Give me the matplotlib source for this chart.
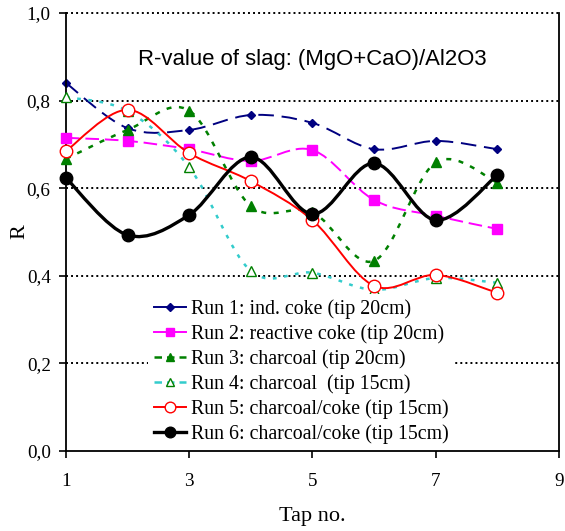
import numpy as np
import matplotlib
matplotlib.use("Agg")
import matplotlib.pyplot as plt
from matplotlib.path import Path
from matplotlib.patches import PathPatch
from matplotlib.lines import Line2D
from matplotlib.ticker import FuncFormatter

# tap numbers and R values per run
taps = [1, 2, 3, 4, 5, 6, 7, 8]
run1 = [0.840, 0.737, 0.733, 0.767, 0.749, 0.689, 0.708, 0.689]
run2 = [0.715, 0.708, 0.689, 0.662, 0.687, 0.573, 0.537, 0.507]
run3 = [0.667, 0.733, 0.777, 0.559, 0.545, 0.434, 0.659, 0.613]
run4 = [0.808, 0.776, 0.648, 0.411, 0.407, 0.368, 0.395, 0.384]
run5 = [0.685, 0.779, 0.680, 0.616, 0.527, 0.377, 0.402, 0.361]
run6 = [0.623, 0.493, 0.539, 0.671, 0.541, 0.657, 0.527, 0.630]

labels = [
    "Run 1: ind. coke (tip 20cm)",
    "Run 2: reactive coke (tip 20cm)",
    "Run 3: charcoal (tip 20cm)",
    "Run 4: charcoal  (tip 15cm)",
    "Run 5: charcoal/coke (tip 15cm)",
    "Run 6: charcoal/coke (tip 15cm)",
]

SERIF = ["Liberation Serif", "DejaVu Serif"]
SANS = ["Liberation Sans", "DejaVu Sans"]


def smooth_path(x, y):
    # cubic bezier through the points (Catmull-Rom style control points)
    p = np.column_stack([x, y]).astype(float)
    n = len(p)
    verts = [p[0]]
    codes = [Path.MOVETO]
    for i in range(n - 1):
        prev = p[i - 1] if i > 0 else p[i]
        nxt = p[i + 2] if i + 2 < n else p[i + 1]
        c1 = p[i] + (p[i + 1] - prev) / 6.0
        c2 = p[i + 1] - (nxt - p[i]) / 6.0
        verts += [c1, c2, p[i + 1]]
        codes += [Path.CURVE4] * 3
    return Path(verts, codes)


# style per run: line colour, dash, width, marker, marker size, face, edge
styles = [
    dict(color="#000080", ls=(0, (8, 4)), lw=1.4, marker="D", ms=4.5, mfc="#000080", mec="#000080", lls="-"),
    dict(color="#ff00ff", ls=(0, (7, 3)), lw=1.4, marker="s", ms=6.5, mfc="#ff00ff", mec="#ff00ff", lls="-"),
    dict(color="#008000", ls=(0, (2, 3)), lw=1.8, marker="^", ms=6.5, mfc="#008000", mec="#008000", lls=(0, (3, 2))),
    dict(color="#33cccc", ls=(0, (1.5, 3)), lw=1.8, marker="^", ms=6.5, mfc="white", mec="#008000", lls=(0, (3, 2))),
    dict(color="#ff0000", ls="-", lw=1.4, marker="o", ms=9, mfc="white", mec="#ff0000", lls="-"),
    dict(color="#000000", ls="-", lw=2.4, marker="o", ms=9, mfc="#000000", mec="#000000", lls="-"),
]

fig = plt.figure(figsize=(5.65, 5.31), dpi=100)
ax = fig.add_axes([0.1168, 0.1507, 0.8725, 0.8248])
ax.set_xlim(1, 9)
ax.set_ylim(0, 1.0)

# dotted horizontal grid
for gy in [0.2, 0.4, 0.6, 0.8, 1.0]:
    ax.axhline(gy, color="black", lw=1.4, ls=(0, (1, 1.6)), clip_on=False, zorder=1)

series = [run1, run2, run3, run4, run5, run6]
handles = []
for k, (vals, st) in enumerate(zip(series, styles)):
    patch = PathPatch(smooth_path(taps, vals), fill=False, edgecolor=st["color"],
                      lw=st["lw"], ls=st["ls"], zorder=2 + k, clip_on=False)
    ax.add_patch(patch)
    ax.plot(taps, vals, ls="none", marker=st["marker"], ms=st["ms"],
            mfc=st["mfc"], mec=st["mec"], mew=1.0, zorder=2.5 + k, clip_on=False)
    handles.append(Line2D([], [], color=st["color"], lw=st["lw"], ls=st["lls"],
                          marker=st["marker"], ms=st["ms"] * 0.85, mfc=st["mfc"],
                          mec=st["mec"]))

leg = ax.legend(handles, labels, loc="lower left", bbox_to_anchor=(0.166, 0.003),
                borderaxespad=0, frameon=True, fancybox=False, framealpha=1.0,
                edgecolor="none", prop={"family": SERIF, "size": 14.3},
                handlelength=1.6, handletextpad=0.25, labelspacing=0.26,
                borderpad=0.3)
leg.set_zorder(20)

ax.text(0.5, 0.881, "R-value of slag: (MgO+CaO)/Al2O3", transform=ax.transAxes,
        ha="center", va="baseline", fontsize=15.9, family=SANS)

ax.set_xticks([1, 3, 5, 7, 9])
ax.set_yticks([0.0, 0.2, 0.4, 0.6, 0.8, 1.0])
ax.yaxis.set_major_formatter(FuncFormatter(lambda v, p: f"{v:.1f}".replace(".", ",")))
ax.tick_params(direction="out", length=5, width=1.2, labelsize=13.8)
ax.tick_params(axis="x", pad=11)
ax.tick_params(axis="y", pad=6)
for lab in ax.get_xticklabels() + ax.get_yticklabels():
    lab.set_family(SERIF)

ax.spines["top"].set_visible(False)
for s in ["left", "bottom", "right"]:
    ax.spines[s].set_linewidth(1.3)

ax.set_xlabel("Tap no.", family=SERIF, fontsize=16, labelpad=12)
ax.set_ylabel("R", family=SERIF, fontsize=16, labelpad=-2)

fig.savefig("out.png", dpi=100)
